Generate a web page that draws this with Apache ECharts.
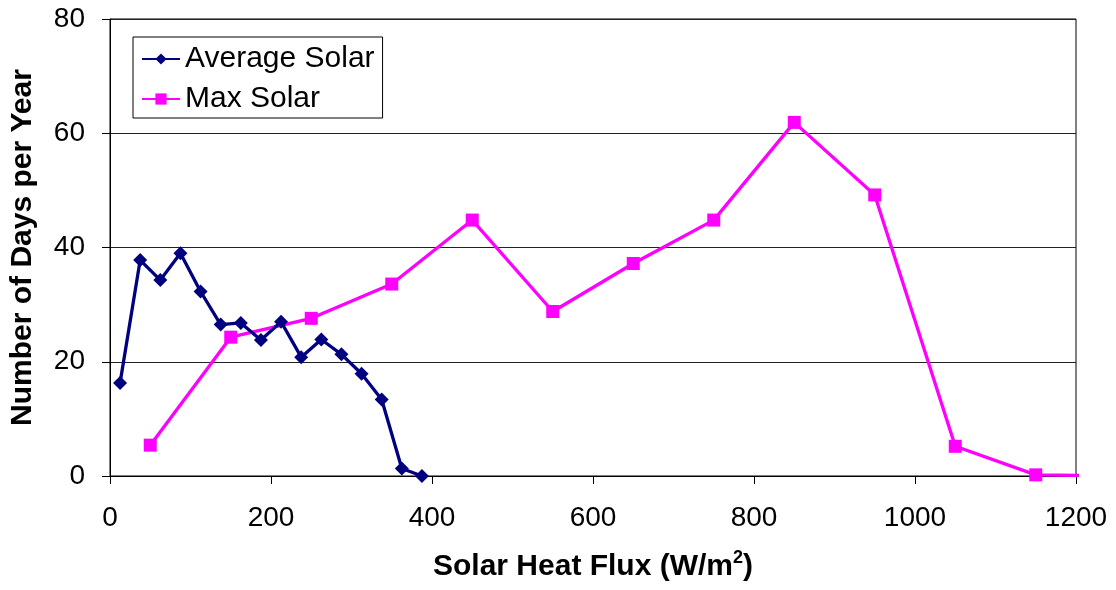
<!DOCTYPE html>
<html>
<head>
<meta charset="utf-8">
<script src="https://cdn.jsdelivr.net/npm/echarts@6/dist/echarts.min.js"></script>
<style>
  html, body { margin: 0; padding: 0; background: #fff; }
  #chart { width: 1116px; height: 590px; }
</style>
</head>
<body>
<div id="chart"></div>
<script>
// Solar heat flux bins (W/m2) and days per year in each bin
const avgFlux = [12.5, 37.5, 62.5, 87.5, 112.5, 137.5, 162.5, 187.5, 212.5, 237.5, 262.5, 287.5, 312.5, 337.5, 362.5, 387.5];
const avgDays = [16.3, 37.8, 34.3, 39.0, 32.3, 26.5, 26.8, 23.8, 27.0, 20.8, 23.9, 21.3, 17.9, 13.4, 1.3, 0];

const maxFlux = [50, 150, 250, 350, 450, 550, 650, 750, 850, 950, 1050, 1150, 1250];
const maxDays = [5.4, 24.3, 27.6, 33.6, 44.8, 28.8, 37.2, 44.8, 61.9, 49.2, 5.2, 0.2, 0];

const xTicks = { min: 0, max: 1200, interval: 200 };
const yTicks = { min: 0, max: 80, interval: 20 };

const seriesNames = ['Average Solar', 'Max Solar'];

const FONT = "'Liberation Sans', Arial, sans-serif";

const pairs = (xs, ys) => xs.map((x, i) => [x, ys[i]]);

const chart = echarts.init(document.getElementById('chart'), null, { renderer: 'canvas' });

chart.setOption({
  animation: false,
  backgroundColor: '#ffffff',
  grid: {
    left: 108, right: 40, top: 19, bottom: 114,
    show: true, borderColor: '#000', borderWidth: 1, backgroundColor: 'transparent'
  },
  legend: {
    orient: 'vertical',
    left: 133, top: 37,
    data: seriesNames,
    backgroundColor: '#fff',
    borderColor: '#000', borderWidth: 1,
    padding: [7, 8, 4, 8],
    itemWidth: 38, itemHeight: 14, itemGap: 10,
    textStyle: { fontFamily: FONT, fontSize: 30, color: '#000', lineHeight: 30 }
  },
  xAxis: {
    type: 'value',
    min: xTicks.min, max: xTicks.max, interval: xTicks.interval,
    name: 'Solar Heat Flux (W/m{sup|2})',
    nameLocation: 'middle', nameGap: 73,
    nameTextStyle: {
      fontFamily: FONT, fontSize: 30, fontWeight: 'bold', color: '#000',
      rich: { sup: { fontFamily: FONT, fontSize: 18, fontWeight: 'bold', color: '#000', verticalAlign: 'top', padding: [0, 0, 18, 0] } }
    },
    axisLine: { show: true, onZero: false, lineStyle: { color: '#000', width: 1 } },
    axisTick: { show: true, inside: false, length: 8, lineStyle: { color: '#000' } },
    axisLabel: { fontFamily: FONT, fontSize: 28, color: '#000', margin: 28, formatter: v => String(v) },
    splitLine: { show: false }
  },
  yAxis: {
    type: 'value',
    min: yTicks.min, max: yTicks.max, interval: yTicks.interval,
    name: 'Number of Days per Year',
    nameLocation: 'middle', nameGap: 72, nameRotate: 90,
    nameTextStyle: { fontFamily: FONT, fontSize: 30, fontWeight: 'bold', color: '#000' },
    axisLine: { show: true, onZero: false, lineStyle: { color: '#000', width: 1 } },
    axisTick: { show: true, inside: false, length: 8, lineStyle: { color: '#000' } },
    axisLabel: { fontFamily: FONT, fontSize: 28, color: '#000', margin: 25 },
    splitLine: { show: true, lineStyle: { color: '#222', width: 1 } }
  },
  series: [
    {
      name: seriesNames[0],
      type: 'line',
      data: pairs(avgFlux, avgDays),
      color: '#000080',
      lineStyle: { color: '#000080', width: 3.3 },
      itemStyle: { color: '#000080' },
      symbol: 'diamond', symbolSize: 14,
      clip: true, z: 3
    },
    {
      name: seriesNames[1],
      type: 'line',
      data: pairs(maxFlux, maxDays),
      color: '#ff00ff',
      lineStyle: { color: '#ff00ff', width: 3.3 },
      itemStyle: { color: '#ff00ff' },
      symbol: 'rect', symbolSize: 13,
      clip: true, z: 2
    }
  ]
});
</script>
</body>
</html>
